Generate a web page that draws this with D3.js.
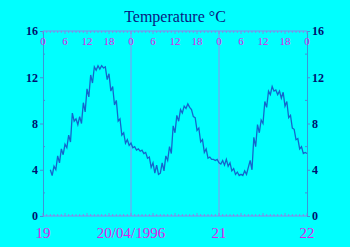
<!DOCTYPE html>
<html lang="en">
<head>
    <meta charset="UTF-8">
    <title>Temperature</title>
    <style>
        html, body { margin: 0; background: #00ffff; }
        svg { display: block; background: #00ffff; }
        text { font-family: "Liberation Serif", "DejaVu Serif", serif; }
    </style>
</head>
<body>
    <main></main>
    <script src="https://d3js.org/d3.v7.min.js"></script>
    <script>
        !(function () {
            'use strict';

            // - - - - - data - - - - -
            // half-hourly readings, starting 19/04/1996 02:00
            let startTime = new Date(1996, 3, 19, 2, 0),
                temps = [
                    // 19th
                    4.0, 3.5, 4.3, 4.0, 5.2, 4.6, 5.8, 5.3, 6.2, 5.9, 7.0, 6.4, 8.9, 8.2, 8.4, 7.9,
                    8.6, 8.0, 9.8, 9.0, 11.0, 10.3, 12.2, 11.5, 12.9, 12.6, 13.0, 12.7, 13.0, 12.8,
                    12.9, 11.8, 12.3, 10.8, 11.2, 9.6, 10.0, 8.2, 8.4, 7.0, 7.2, 6.3, 6.6, 6.1, 6.3,
                    // 20th
                    5.9, 6.0, 5.7, 5.8, 5.6, 5.7, 5.4, 5.5, 5.0, 5.1, 4.2, 4.6, 3.7, 4.4, 3.6, 3.7,
                    4.6, 3.9, 5.2, 4.8, 6.0, 5.4, 7.8, 7.2, 8.7, 8.2, 9.2, 8.9, 9.5, 9.3, 9.7, 9.4,
                    9.2, 8.6, 8.5, 7.4, 7.6, 6.4, 6.6, 5.5, 5.8, 5.0, 5.1, 4.9, 4.9, 4.8, 4.9, 4.6,
                    // 21st
                    4.5, 4.8, 4.4, 4.9, 4.3, 4.6, 3.9, 4.1, 3.6, 3.8, 3.5, 3.6, 3.5, 3.9, 3.6, 4.2,
                    4.8, 4.0, 6.8, 6.0, 7.9, 7.2, 8.3, 8.0, 9.9, 9.4, 10.8, 10.5, 11.2, 10.8, 10.9, 10.5,
                    10.8, 10.2, 10.7, 9.5, 9.9, 8.5, 8.7, 7.6, 7.5, 6.6, 6.7, 5.8, 6.0, 5.4, 5.5, 5.4
                ],
                yTicks = [0, 4, 8, 12, 16],
                hourTicks = [0, 6, 12, 18],
                dayLabels = ['19', '20/04/1996', '21', '22'],
                title = 'Temperature \u00b0C';

            let svg, x, y,
                W = 350, H = 247,
                margin = { left: 43, right: 43, top: 31, bottom: 31 },
                t0 = new Date(1996, 3, 19),
                t1 = new Date(1996, 3, 22);

            function setSvg() {
                svg = d3.select('main').append('svg')
                    .attr('width', W).attr('height', H);
            }

            function setScales() {
                x = d3.scaleTime().domain([t0, t1]).range([margin.left, W - margin.right]);
                y = d3.scaleLinear().domain([0, 16]).range([H - margin.bottom, margin.top]);
            }

            function drawFrame() {
                let days = d3.timeDay.range(t0, d3.timeDay.offset(t1, 1));

                // day separators
                svg.append('g').selectAll('line')
                    .data(days.slice(1, -1)).join('line')
                    .attr('x1', d => x(d)).attr('x2', d => x(d))
                    .attr('y1', y(16)).attr('y2', y(0))
                    .attr('stroke', '#8c94ee').attr('stroke-width', 1);

                // left / right axes
                let yl = svg.append('g').attr('transform', 'translate(' + x(t0) + ',0)')
                    .call(d3.axisLeft(y).tickValues(yTicks).tickSize(3).tickPadding(2));
                let yr = svg.append('g').attr('transform', 'translate(' + x(t1) + ',0)')
                    .call(d3.axisRight(y).tickValues(yTicks).tickSize(3).tickPadding(2));
                [yl, yr].forEach(function (g) {
                    g.select('.domain').attr('stroke', '#3a96d8');
                    g.selectAll('.tick line').attr('stroke', '#3a96d8');
                    g.selectAll('text').attr('fill', '#001070')
                        .style('font-size', '12px').style('font-weight', 'bold')
                        .style('font-family', '"Liberation Serif", serif');
                });
                // minor ticks on the y axes
                [[x(t0), 1], [x(t1), -1]].forEach(function (p) {
                    svg.append('g').selectAll('line')
                        .data([2, 6, 10, 14]).join('line')
                        .attr('x1', p[0]).attr('x2', p[0] + 2 * p[1])
                        .attr('y1', d => y(d)).attr('y2', d => y(d))
                        .attr('stroke', '#3a96d8');
                });

                // top & bottom hour ticks
                let hours = d3.timeHour.range(t0, d3.timeHour.offset(t1, 1));
                [[y(16), 1], [y(0), -1]].forEach(function (p) {
                    let g = svg.append('g');
                    g.append('line')
                        .attr('x1', x(t0)).attr('x2', x(t1))
                        .attr('y1', p[0]).attr('y2', p[0])
                        .attr('stroke', '#8c84e8');
                    g.selectAll('line.tk')
                        .data(hours).join('line').attr('class', 'tk')
                        .attr('x1', d => x(d)).attr('x2', d => x(d))
                        .attr('y1', p[0])
                        .attr('y2', d => p[0] + p[1] * (d.getHours() % 6 === 0 ? 3 : 2))
                        .attr('stroke', '#a070e0').attr('stroke-width', 0.8);
                });

                // hour labels along the top
                let hourMarks = d3.timeHour.every(6).range(t0, d3.timeHour.offset(t1, 1));
                svg.append('g').selectAll('text')
                    .data(hourMarks).join('text')
                    .attr('x', d => x(d)).attr('y', y(16) + 14)
                    .attr('text-anchor', 'middle')
                    .attr('fill', '#e020e8').style('font-size', '11px')
                    .text(d => hourTicks.includes(d.getHours()) ? d.getHours() : '');

                // day labels along the bottom
                svg.append('g').selectAll('text')
                    .data(days).join('text')
                    .attr('x', d => x(d)).attr('y', y(0) + 22)
                    .attr('text-anchor', 'middle')
                    .attr('fill', '#e020e8').style('font-size', '15px')
                    .text((d, i) => dayLabels[i]);

                // title
                svg.append('text')
                    .attr('x', W / 2).attr('y', 22)
                    .attr('text-anchor', 'middle')
                    .attr('fill', '#0a1a80').style('font-size', '16px')
                    .text(title);
            }

            function drawLine() {
                let pts = temps.map(function (v, i) {
                    return { t: d3.timeMinute.offset(startTime, i * 30), v: v };
                });
                svg.append('path')
                    .datum(pts)
                    .attr('fill', 'none')
                    .attr('stroke', '#1466cc')
                    .attr('stroke-width', 1.3)
                    .attr('d', d3.line().x(d => x(d.t)).y(d => y(d.v)));
            }

            function main() {
                setSvg();
                setScales();
                drawFrame();
                drawLine();
            }

            window.addEventListener('load', main);
        }());
    </script>
</body>
</html>
